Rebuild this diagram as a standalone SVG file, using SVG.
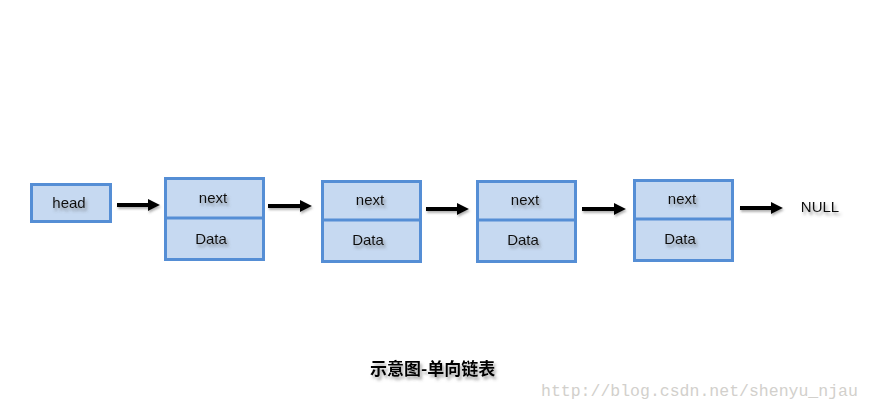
<svg xmlns="http://www.w3.org/2000/svg" width="872" height="408" viewBox="0 0 872 408">
<defs>
<filter id="ts" x="-20%" y="-30%" width="150%" height="180%">
<feDropShadow dx="2" dy="3" stdDeviation="1.6" flood-color="#555" flood-opacity="0.55"/>
</filter>
<filter id="as" filterUnits="userSpaceOnUse" x="0" y="0" width="872" height="408">
<feDropShadow dx="1" dy="2" stdDeviation="1.2" flood-color="#666" flood-opacity="0.5"/>
</filter>
<marker id="ah" markerUnits="userSpaceOnUse" markerWidth="13" markerHeight="13" refX="1" refY="6" orient="auto">
<path d="M0,0 L12,6 L0,12 Z" fill="#000"/>
</marker>
</defs>
<style>
.box{fill:#c6d9f1;stroke:#558ed5;stroke-width:3}
.div{stroke:#558ed5;stroke-width:3}
.lbl{font-family:"Liberation Sans",Arial,sans-serif;font-size:15px;fill:#111;text-anchor:middle;filter:url(#ts)}
.conn{stroke:#000;stroke-width:4;fill:none;marker-end:url(#ah)}
.cap{font-family:"Noto Sans CJK SC",sans-serif;font-size:17px;font-weight:bold;fill:#000;filter:url(#ts)}
.wm{font-family:"Liberation Mono","Courier New",monospace;font-size:16.5px;fill:#d2d0cc}
</style>
<rect width="872" height="408" fill="#fff"/>
<g id="head">
<rect class="box" x="31.5" y="184.5" width="79" height="37"/>
<text class="lbl" x="69" y="208">head</text>
</g>
<g id="node1">
<rect class="box" x="165.5" y="178.5" width="98" height="81"/>
<line class="div" x1="165.5" y1="218" x2="263.5" y2="218"/>
<text class="lbl" x="213" y="203">next</text>
<text class="lbl" x="211" y="243.5">Data</text>
</g>
<g id="node2">
<rect class="box" x="322.5" y="181.5" width="98" height="80"/>
<line class="div" x1="322.5" y1="220" x2="420.5" y2="220"/>
<text class="lbl" x="370" y="205">next</text>
<text class="lbl" x="368" y="245">Data</text>
</g>
<g id="node3">
<rect class="box" x="477.5" y="181.5" width="98" height="80"/>
<line class="div" x1="477.5" y1="220" x2="575.5" y2="220"/>
<text class="lbl" x="525" y="205">next</text>
<text class="lbl" x="523" y="245">Data</text>
</g>
<g id="node4">
<rect class="box" x="634.5" y="180.5" width="98" height="80"/>
<line class="div" x1="634.5" y1="219" x2="732.5" y2="219"/>
<text class="lbl" x="682" y="204">next</text>
<text class="lbl" x="680" y="244">Data</text>
</g>
<g id="null">
<text class="lbl" x="820" y="212">NULL</text>
</g>
<g id="connectors" filter="url(#as)">
<path class="conn" d="M117,205 H149"/>
<path class="conn" d="M268,206 H301"/>
<path class="conn" d="M426,209 H458"/>
<path class="conn" d="M582,209 H615"/>
<path class="conn" d="M740,208 H772"/>
</g>
<text class="cap" x="370" y="375">示意图-单向链表</text>
<text class="wm" x="541" y="396">http://blog.csdn.net/shenyu_njau</text>
</svg>
